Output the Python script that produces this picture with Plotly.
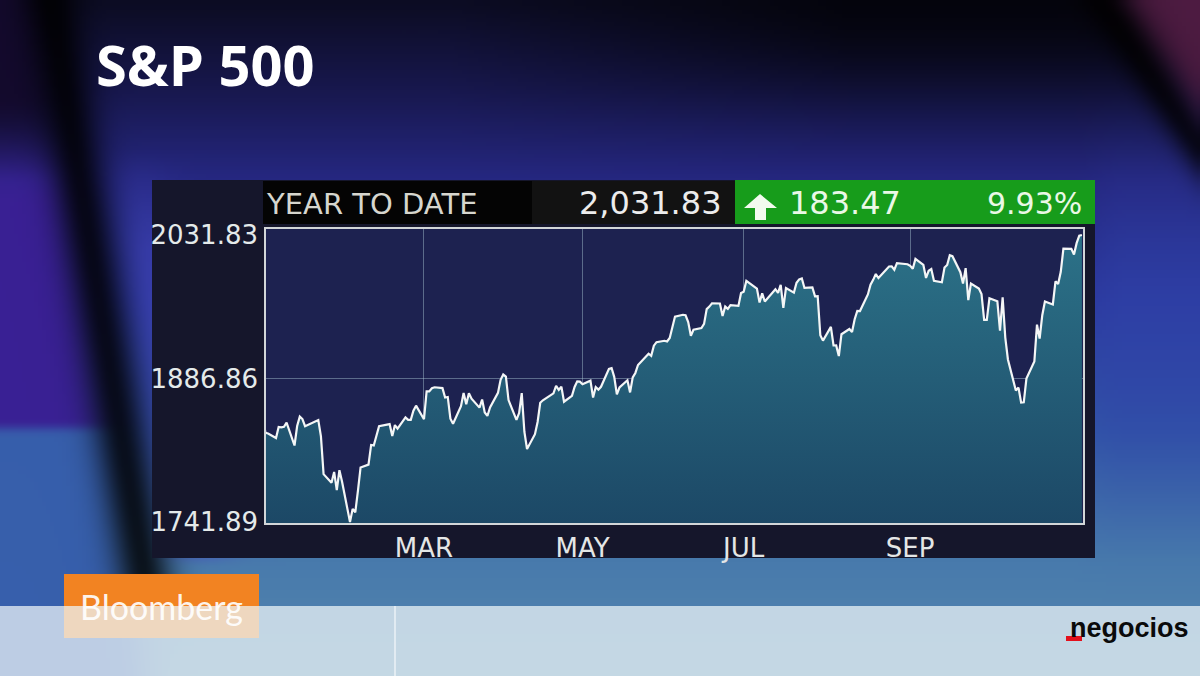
import base64, struct, zlib
import numpy as np
import plotly.graph_objects as go

# ---------------- data ----------------
DATES = [
 "2014-01-01","2014-01-02","2014-01-03","2014-01-06","2014-01-07","2014-01-08","2014-01-09","2014-01-10",
 "2014-01-13","2014-01-14","2014-01-15","2014-01-16","2014-01-17","2014-01-21","2014-01-22","2014-01-23",
 "2014-01-24","2014-01-27","2014-01-28","2014-01-29","2014-01-30","2014-01-31","2014-02-03","2014-02-04",
 "2014-02-05","2014-02-06","2014-02-07","2014-02-10","2014-02-11","2014-02-12","2014-02-13","2014-02-14",
 "2014-02-18","2014-02-19","2014-02-20","2014-02-21","2014-02-24","2014-02-25","2014-02-26","2014-02-27",
 "2014-02-28","2014-03-03","2014-03-04","2014-03-05","2014-03-06","2014-03-07","2014-03-10","2014-03-11",
 "2014-03-12","2014-03-13","2014-03-14","2014-03-17","2014-03-18","2014-03-19","2014-03-20","2014-03-21",
 "2014-03-24","2014-03-25","2014-03-26","2014-03-27","2014-03-28","2014-03-31","2014-04-01","2014-04-02",
 "2014-04-03","2014-04-04","2014-04-07","2014-04-08","2014-04-09","2014-04-10","2014-04-11","2014-04-14",
 "2014-04-15","2014-04-16","2014-04-17","2014-04-21","2014-04-22","2014-04-23","2014-04-24","2014-04-25",
 "2014-04-28","2014-04-29","2014-04-30","2014-05-01","2014-05-02","2014-05-05","2014-05-06","2014-05-07",
 "2014-05-08","2014-05-09","2014-05-12","2014-05-13","2014-05-14","2014-05-15","2014-05-16","2014-05-19",
 "2014-05-20","2014-05-21","2014-05-22","2014-05-23","2014-05-27","2014-05-28","2014-05-29","2014-05-30",
 "2014-06-02","2014-06-03","2014-06-04","2014-06-05","2014-06-06","2014-06-09","2014-06-10","2014-06-11",
 "2014-06-12","2014-06-13","2014-06-16","2014-06-17","2014-06-18","2014-06-19","2014-06-20","2014-06-23",
 "2014-06-24","2014-06-25","2014-06-26","2014-06-27","2014-06-30","2014-07-01","2014-07-02","2014-07-03",
 "2014-07-07","2014-07-08","2014-07-09","2014-07-10","2014-07-11","2014-07-14","2014-07-15","2014-07-16",
 "2014-07-17","2014-07-18","2014-07-21","2014-07-22","2014-07-23","2014-07-24","2014-07-25","2014-07-28",
 "2014-07-29","2014-07-30","2014-07-31","2014-08-01","2014-08-04","2014-08-05","2014-08-06","2014-08-07",
 "2014-08-08","2014-08-11","2014-08-12","2014-08-13","2014-08-14","2014-08-15","2014-08-18","2014-08-19",
 "2014-08-20","2014-08-21","2014-08-22","2014-08-25","2014-08-26","2014-08-27","2014-08-28","2014-08-29",
 "2014-09-02","2014-09-03","2014-09-04","2014-09-05","2014-09-08","2014-09-09","2014-09-10","2014-09-11",
 "2014-09-12","2014-09-15","2014-09-16","2014-09-17","2014-09-18","2014-09-19","2014-09-22","2014-09-23",
 "2014-09-24","2014-09-25","2014-09-26","2014-09-29","2014-09-30","2014-10-01","2014-10-02","2014-10-03",
 "2014-10-06","2014-10-07","2014-10-08","2014-10-09","2014-10-10","2014-10-13","2014-10-14","2014-10-15",
 "2014-10-16","2014-10-17","2014-10-20","2014-10-21","2014-10-22","2014-10-23","2014-10-24","2014-10-27",
 "2014-10-28","2014-10-29","2014-10-30","2014-10-31","2014-11-03","2014-11-04","2014-11-05","2014-11-06",
 "2014-11-07",
]
CLOSES = [
 1848.36,1831.98,1831.37,1826.77,1837.88,1837.49,1838.13,1842.37,
 1819.20,1838.88,1848.38,1845.89,1838.70,1843.80,1844.86,1828.46,
 1790.29,1781.56,1792.50,1774.20,1794.19,1782.59,1741.89,1755.20,
 1751.64,1773.43,1797.02,1799.84,1819.75,1819.26,1829.83,1838.63,
 1840.76,1828.75,1839.78,1836.25,1847.61,1845.12,1845.16,1854.29,
 1859.45,1845.73,1873.91,1873.81,1877.03,1878.04,1877.17,1867.63,
 1868.20,1846.34,1841.13,1858.83,1872.25,1860.77,1872.01,1866.52,
 1857.44,1865.62,1852.56,1849.04,1857.62,1872.34,1885.52,1890.90,
 1888.77,1865.09,1845.04,1851.96,1872.18,1833.08,1815.69,1830.61,
 1842.98,1862.31,1864.85,1871.89,1879.55,1875.39,1878.61,1863.40,
 1869.43,1878.33,1883.95,1883.68,1881.14,1884.66,1867.72,1878.21,
 1875.63,1878.48,1896.65,1897.45,1888.53,1870.85,1877.86,1885.08,
 1872.83,1888.03,1892.49,1900.53,1911.91,1909.78,1920.03,1923.57,
 1924.97,1924.24,1927.88,1940.46,1949.44,1951.27,1950.79,1943.89,
 1930.11,1936.16,1937.78,1941.99,1956.98,1959.48,1962.87,1962.61,
 1949.98,1959.53,1957.22,1960.96,1960.23,1973.32,1974.62,1985.44,
 1977.65,1963.71,1972.83,1964.68,1967.57,1977.10,1973.28,1981.57,
 1958.12,1978.22,1973.63,1983.53,1987.01,1987.98,1978.34,1978.91,
 1969.95,1970.07,1930.67,1925.15,1938.99,1920.21,1920.24,1909.57,
 1931.59,1936.92,1933.75,1946.72,1955.18,1955.06,1971.74,1981.60,
 1986.51,1992.37,1988.40,1997.92,2000.02,2000.12,1996.74,2003.37,
 2002.28,2000.72,1997.65,2007.71,2001.54,1988.44,1995.69,1997.45,
 1985.54,1984.13,1998.98,2001.57,2011.36,2010.40,1994.29,1982.77,
 1998.30,1965.99,1982.85,1977.80,1972.29,1946.16,1946.17,1967.90,
 1964.82,1935.10,1968.89,1928.21,1906.13,1874.74,1877.70,1862.49,
 1862.76,1886.76,1904.01,1941.28,1927.11,1950.82,1964.58,1961.63,
 1985.05,1982.30,1994.65,2018.05,2017.81,2012.10,2023.57,2031.21,
 2031.83,
]
Y_TICKS = [1741.89, 1886.86, 2031.83]
Y_LABELS = ["1741.89", "1886.86", "2031.83"]
MONTH_TICKS = ["2014-03-03", "2014-05-02", "2014-07-02", "2014-09-03"]
MONTH_LABELS = ["MAR", "MAY", "JUL", "SEP"]

TITLE = "S&P 500"
PERIOD = "YEAR TO DATE"
LAST = "2,031.83"
CHANGE = "183.47"
PCT = "9.93%"

# ---------------- geometry / style ----------------
W, H = 1200, 676
L, R, T, B = 265, 1084, 228, 524
PW, PH = R - L, B - T
Y_RANGE = [1739.9, 2038.9]
X_RANGE = ["2014-01-01 20:00", "2014-11-07 19:00"]
FONT = "DejaVu Sans"


def px(x):
    return (x - L) / PW


def py(y):
    return (B - y) / PH


# ---------------- blurred background image ----------------
def make_background():
    s = 4
    w, h = W // s, H // s
    X = (np.arange(w) + 0.5) * s
    Y = (np.arange(h) + 0.5) * s
    XX, YY = np.meshgrid(X, Y)
    stops_y = [0, 90, 180, 300, 430, 560, 676]
    stops_c = np.array([[12, 12, 34], [24, 24, 78], [38, 40, 130], [44, 58, 160],
                        [50, 84, 168], [72, 122, 172], [85, 135, 175]], float)
    img = np.zeros((h, w, 3))
    for k in range(3):
        img[..., k] = np.interp(YY, stops_y, stops_c[:, k])
    # darker top-right
    m = np.clip((XX - 450) / 400, 0, 1) * np.exp(-((YY - 10) / 90) ** 2)
    img *= (1 - 0.65 * m)[..., None]
    # brighter blue right side
    rb = np.clip((XX - 1080) / 40, 0, 1) * np.exp(-((YY - 330) / 130) ** 2)
    img = img * (1 - 0.5 * rb[..., None]) + np.array([48, 68, 170]) * 0.5 * rb[..., None]
    # maroon top-right corner
    d = XX - 1100 - YY * 0.67
    mar = 1 / (1 + np.exp(-(d - 25) / 12))
    img = img * (1 - mar[..., None]) + np.array([78, 28, 66]) * mar[..., None]
    edge = np.exp(-(d / 22) ** 2) * (YY < 320)
    img *= (1 - 0.8 * edge)[..., None]
    # left purple area
    xc = 55 + YY * 0.164
    dx = XX - xc
    leftm = 1 / (1 + np.exp((dx + 20) / 10))
    purple = np.where((YY < 430)[..., None], np.array([58, 32, 148]), np.array([55, 95, 172]))
    purple_w = leftm * np.clip((YY - 120) / 80, 0, 1)
    img = img * (1 - purple_w[..., None]) + purple * purple_w[..., None]
    topleft = leftm * np.clip((180 - YY) / 80, 0, 1)
    img = img * (1 - topleft[..., None]) + np.array([20, 10, 45]) * topleft[..., None]
    # lighter strip right of the band
    strip = np.exp(-((dx - 55) / 35) ** 2) * np.clip((YY - 150) / 100, 0, 1) * (YY < 560)
    img = img * (1 - 0.5 * strip[..., None]) + np.array([70, 70, 190]) * 0.5 * strip[..., None]
    # dark diagonal band
    band = np.exp(-((dx + 5) / 28) ** 2) * (YY < 600)
    img *= (1 - 0.85 * band)[..., None]
    # box blur (edge padded, no wrap-around)
    for _ in range(3):
        p = np.pad(img, ((1, 1), (1, 1), (0, 0)), mode="edge")
        img = (p[1:-1, 1:-1] + p[:-2, 1:-1] + p[2:, 1:-1] + p[1:-1, :-2] + p[1:-1, 2:]) / 5
    arr = np.clip(img, 0, 255).astype(np.uint8)
    raw = b"".join(b"\x00" + arr[i].tobytes() for i in range(h))

    def chunk(t, dat):
        c = struct.pack(">I", len(dat)) + t + dat
        return c + struct.pack(">I", zlib.crc32(t + dat) & 0xFFFFFFFF)

    png = (b"\x89PNG\r\n\x1a\n" + chunk(b"IHDR", struct.pack(">IIBBBBB", w, h, 8, 2, 0, 0, 0))
           + chunk(b"IDAT", zlib.compress(raw, 9)) + chunk(b"IEND", b""))
    return "data:image/png;base64," + base64.b64encode(png).decode()


fig = go.Figure()
fig.add_trace(go.Scatter(x=DATES, y=[Y_RANGE[0]] * len(DATES), mode="lines",
                         line=dict(width=0), hoverinfo="skip", showlegend=False))
fig.add_trace(go.Scatter(
    x=DATES, y=CLOSES, mode="lines", fill="tonexty",
    fillgradient=dict(type="vertical",
                      colorscale=[[0, "rgb(28,72,102)"], [1, "rgb(44,114,136)"]],
                      start=Y_RANGE[0], stop=Y_TICKS[2]),
    line=dict(color="#f4f6f6", width=2.2), showlegend=False, hoverinfo="skip"))


def rect(x0, y0, x1, y1, color, layer="below", line=None):
    return dict(type="rect", xref="paper", yref="paper", x0=px(x0), x1=px(x1), y0=py(y1), y1=py(y0),
                fillcolor=color, line=line or dict(width=0), layer=layer)


shapes = [
    rect(152, 180, 1095, 558, "#15162b"),
    rect(263, 181, 532, 224, "#040404"),
    rect(532, 181, 735, 224, "#121212"),
    rect(735, 180, 1095, 224, "#179c1b"),
    rect(L, T, R, B, "#1d2250"),
    dict(type="line", xref="paper", yref="y", x0=0, x1=1, y0=Y_TICKS[1], y1=Y_TICKS[1],
         line=dict(color="rgba(170,200,210,0.45)", width=1), layer="below"),
    rect(L, T, R, B, "rgba(0,0,0,0)", layer="above", line=dict(color="#d2d6d8", width=2)),
]
arrow = [(760, 194), (777, 208), (766, 208), (766, 220), (755, 220), (755, 208), (744, 208)]
path = "M " + " L ".join(f"{px(a):.5f},{py(b):.5f}" for a, b in arrow) + " Z"
shapes.append(dict(type="path", xref="paper", yref="paper", path=path, fillcolor="#f2fbef",
                   line=dict(width=0), layer="above"))
shapes += [
    rect(64, 574, 259, 638, "#f28322", layer="above"),
    rect(0, 606, 1200, 676, "rgba(236,244,247,0.74)", layer="above"),
    rect(394, 606, 396, 676, "rgba(255,255,255,0.5)", layer="above"),
    rect(1066, 636, 1082, 641, "#e3101c", layer="above"),
]


def ann(text, x, y, size, color, xanchor="left", bold=False, family=FONT):
    return dict(text=f"<b>{text}</b>" if bold else text, x=px(x), y=py(y), xref="paper", yref="paper",
                xanchor=xanchor, yanchor="middle", showarrow=False,
                font=dict(family=family, size=size, color=color))


annotations = [
    ann(TITLE, 94, 64, 56, "#ffffff", bold=True, family="Open Sans"),
    ann(PERIOD, 264, 204, 29, "#d6d6ce"),
    ann(LAST, 724, 203, 32, "#ececec", xanchor="right"),
    ann(CHANGE, 787, 203, 32, "#eaf8e6"),
    ann(PCT, 1084, 203, 30, "#eaf8e6", xanchor="right"),
    ann("Bloomberg", 161, 606, 34, "rgba(255,255,255,0.92)", xanchor="center", family="Lato"),
    ann("negocios", 1191, 628, 27, "#0a0a0a", xanchor="right", bold=True, family="Liberation Sans"),
]

fig.update_layout(
    width=W, height=H, autosize=False,
    margin=dict(l=L, r=W - R, t=T, b=H - B, pad=0),
    paper_bgcolor="#1a1d50", plot_bgcolor="rgba(0,0,0,0)",
    showlegend=False,
    images=[dict(source=make_background(), xref="paper", yref="paper", x=px(0), y=py(0),
                 sizex=W / PW, sizey=H / PH, sizing="stretch", xanchor="left", yanchor="top",
                 layer="below")],
    shapes=shapes, annotations=annotations,
    xaxis=dict(type="date", range=X_RANGE, tickvals=MONTH_TICKS, ticktext=MONTH_LABELS,
               showgrid=True, gridcolor="rgba(170,200,210,0.45)", gridwidth=1,
               zeroline=False, showline=False, ticks="", ticklabelstandoff=6,
               tickfont=dict(family=FONT, size=26, color="#e4e6e6")),
    yaxis=dict(range=Y_RANGE, tickvals=Y_TICKS, ticktext=Y_LABELS, showgrid=False,
               zeroline=False, showline=False, ticks="", ticklabelstandoff=6,
               tickfont=dict(family=FONT, size=26, color="#e4eaea")),
)

fig.write_html("out.html", config={"displayModeBar": False},
               post_script="document.body.style.margin='0';document.body.style.overflow='hidden';")
